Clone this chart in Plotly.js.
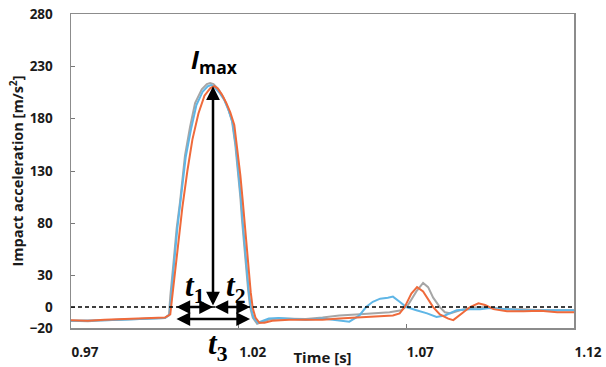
<!DOCTYPE html>
<html><head><meta charset="utf-8">
<script src="https://cdn.plot.ly/plotly-3.0.1.min.js"></script>
<style>html,body{margin:0;padding:0;background:#fff;}#chart{width:606px;height:367px;}</style>
</head><body><div id="chart"></div>
<script>
// ---- data ----
const grayTime = [0.970,0.975,0.980,0.985,0.990,0.995,0.998,0.9992,0.9996,1.0005,1.0015,1.0025,1.0040,1.0055,1.0070,1.0090,1.0105,1.0115,1.0125,1.0140,1.0155,1.0168,1.0180,1.0190,1.0198,1.0205,1.0210,1.0216,1.0222,1.0228,1.0234,1.0242,1.0255,1.0270,1.0290,1.032,1.035,1.040,1.045,1.050,1.055,1.060,1.065,1.0685,1.0705,1.0730,1.0750,1.0765,1.0780,1.0800,1.0815,1.0830,1.0860,1.0890,1.092,1.095,1.100,1.105,1.110,1.115,1.120];
const grayAcc  = [-13,-13.5,-12.5,-12,-12,-11,-10.5,-8,10,40,75,100,145,172,195,208,213,214,213,208,200,190,178,155,130,105,83,60,35,17,0,-10,-16,-14,-12,-11,-11,-11.5,-10,-8,-7,-6,-5,-3,2,15,23,19,9,0,-5,-6,-3,-1,0,-1,-2,-2,-3,-3,-3];

const blueTime = [0.970,0.975,0.980,0.985,0.990,0.995,0.998,0.9994,0.9998,1.0007,1.0017,1.0027,1.0042,1.0058,1.0074,1.0093,1.0108,1.0118,1.0128,1.0142,1.0157,1.0170,1.0182,1.0192,1.0200,1.0207,1.0212,1.0218,1.0224,1.0230,1.0236,1.0244,1.0257,1.0272,1.0290,1.032,1.035,1.040,1.045,1.050,1.053,1.056,1.058,1.060,1.0622,1.0645,1.066,1.068,1.070,1.073,1.0762,1.0790,1.0815,1.0850,1.0890,1.092,1.095,1.100,1.105,1.110,1.115,1.120];
const blueAcc  = [-13,-13,-12.5,-12,-11.5,-11,-10.5,-7,10,40,75,100,143,170,193,206,211,212,210,205,198,188,176,153,128,103,82,58,34,16,0,-10,-15,-13,-11,-10.5,-11,-12,-11,-13,-14,-8,0,5,8,9,10,5,0,-3,-6,-9.5,-8,-3,-2,-2,-1,-2,-3,-3,-3,-3];

const orangeTime = [0.970,0.975,0.980,0.985,0.990,0.995,0.998,0.9996,1.0002,1.0012,1.0022,1.0032,1.0047,1.0062,1.0080,1.0098,1.0115,1.0127,1.0137,1.0150,1.0163,1.0175,1.0187,1.0197,1.0205,1.0212,1.0218,1.0224,1.0230,1.0236,1.0242,1.0250,1.0262,1.0277,1.030,1.035,1.040,1.045,1.050,1.055,1.060,1.066,1.068,1.0695,1.0715,1.0732,1.0750,1.0765,1.0780,1.0800,1.0825,1.0840,1.0865,1.0890,1.0915,1.0935,1.0960,1.100,1.105,1.110,1.115,1.120];
const orangeAcc  = [-12.5,-13,-12,-11.5,-11,-10.5,-10,-7,10,40,70,95,130,160,185,202,209,211,209,203,195,186,174,150,126,102,80,55,32,14,-1,-10,-15,-15,-13,-12,-12,-12,-11,-10,-9,-8,-6,0,13,19,15,7,0,-7,-11,-12.5,-6,0,3.5,2,-2,-4,-4,-3.5,-5,-5];

const yTicks = [-20,0,30,80,130,180,230,280];
const xTicks = [0.97,1.02,1.07,1.12];
const xTickText = ['0.97','1.02','1.07','1.12'];

const lbl = {family:'Open Sans, sans-serif', size:13.5, color:'#1a1a1a', weight:'bold'};

const traces = [
  {x:grayTime, y:grayAcc, mode:'lines', line:{color:'#a6a6a6', width:2}, name:'gray'},
  {x:blueTime, y:blueAcc, mode:'lines', line:{color:'#5fb6e6', width:2}, name:'blue'},
  {x:orangeTime, y:orangeAcc, mode:'lines', line:{color:'#ef6a3b', width:2}, name:'orange'}
];

const arrowCol = '#000';
function arr(x0,y0,x1,y1){
  return {x:x1,y:y1,ax:x0,ay:y0,xref:'x',yref:'y',axref:'x',ayref:'y',text:'',showarrow:true,
          arrowhead:2,arrowside:'end+start',arrowsize:1.1,arrowwidth:2.5,arrowcolor:arrowCol};
}
const serif = {family:'Liberation Serif, serif', size:31, color:'#000', weight:'bold'};
const annotations = [
  arr(1.01235,0,1.01235,211),
  arr(1.0010,0,1.01235,0),
  arr(1.01235,0,1.0234,0),
  arr(1.0010,-11.4,1.0234,-11.4),
  {x:1.0129,y:236,xref:'x',yref:'y',text:'<i>I</i><sub>max</sub>',showarrow:false,
   font:{family:'Open Sans, sans-serif',size:25,color:'#000',weight:'bold'}},
  {x:1.0067,y:18,xref:'x',yref:'y',text:'<i>t</i><sub>1</sub>',showarrow:false,font:serif},
  {x:1.0191,y:18,xref:'x',yref:'y',text:'<i>t</i><sub>2</sub>',showarrow:false,font:serif},
  {x:1.0138,y:-0.056,xref:'x',yref:'paper',yanchor:'middle',text:'<i>t</i><sub>3</sub>',showarrow:false,font:serif}
];

const layout = {
  width:606, height:367,
  margin:{l:71, r:32, t:14, b:39},
  paper_bgcolor:'#fff', plot_bgcolor:'#fff',
  showlegend:false,
  xaxis:{range:[0.97,1.12], tickvals:xTicks, ticktext:xTickText, ticks:'inside', ticklen:4, tickcolor:'#777',
         showgrid:false, zeroline:false, showline:true, mirror:true, linecolor:'#8c8c8c', linewidth:1.5,
         tickfont:lbl, ticklabelshift:14, ticklabelstandoff:11,
         title:{text:'Time [s]', font:{family:'Open Sans, sans-serif', size:15, color:'#1a1a1a', weight:'bold'}, standoff:0}},
  yaxis:{range:[-20,280], tickvals:yTicks, ticks:'inside', ticklen:4, tickcolor:'#777',
         showgrid:false, zeroline:false, showline:true, mirror:true, linecolor:'#8c8c8c', linewidth:1.5,
         tickfont:lbl, ticklabelstandoff:14,
         title:{text:'Impact acceleration [m/s<sup>2</sup>]', font:{family:'Open Sans, sans-serif', size:14.5, color:'#1a1a1a', weight:'bold'}, standoff:2}},
  shapes:[{type:'line', xref:'paper', x0:0, x1:1, yref:'y', y0:0, y1:0, line:{color:'#000', width:1.5, dash:'4px,3px'}}],
  annotations:annotations
};
Plotly.newPlot('chart', traces, layout, {displayModeBar:false, staticPlot:true});
</script></body></html>
